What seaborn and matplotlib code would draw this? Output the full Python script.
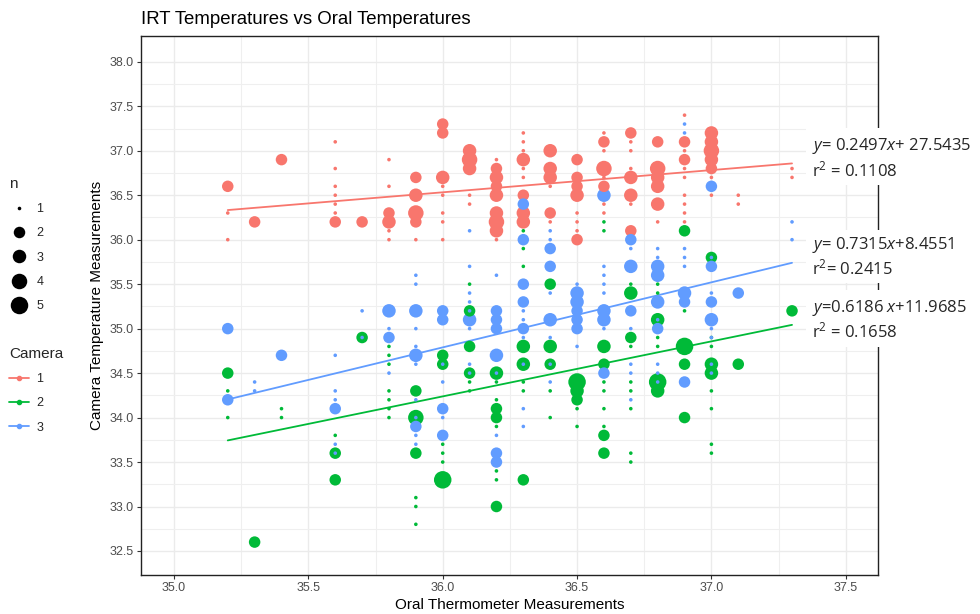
import matplotlib
matplotlib.use("Agg")
import matplotlib.pyplot as plt
from matplotlib.lines import Line2D
from matplotlib.patches import Rectangle
import seaborn as sns
import pandas as pd

# ---------------- data ----------------
cam1_x = [35.2, 35.2, 35.2, 35.3, 35.4,
          35.6, 35.6, 35.6, 35.6, 35.6, 35.6, 35.6, 35.7,
          35.8, 35.8, 35.8, 35.8, 35.8, 35.8,
          35.9, 35.9, 35.9, 35.9, 35.9,
          36.0, 36.0, 36.0, 36.0, 36.0, 36.0, 36.0, 36.0,
          36.1, 36.1, 36.1, 36.1, 36.1,
          36.2, 36.2, 36.2, 36.2, 36.2, 36.2, 36.2, 36.2, 36.2,
          36.3, 36.3, 36.3, 36.3, 36.3, 36.3, 36.3, 36.3, 36.3,
          36.4, 36.4, 36.4, 36.4, 36.4, 36.4,
          36.5, 36.5, 36.5, 36.5, 36.5, 36.5, 36.5, 36.5,
          36.6, 36.6, 36.6, 36.6, 36.6, 36.6, 36.6, 36.6,
          36.7, 36.7, 36.7, 36.7, 36.7, 36.7, 36.7, 36.7,
          36.8, 36.8, 36.8, 36.8, 36.8, 36.8,
          36.9, 36.9, 36.9, 36.9, 36.9, 36.9, 36.9, 36.9, 36.9, 36.9,
          37.0, 37.0, 37.0, 37.0, 37.0, 37.0, 37.0,
          37.1, 37.1, 37.3, 37.3]
cam1_y = [36.6, 36.3, 36.0, 36.2, 36.9,
          37.1, 36.8, 36.6, 36.5, 36.4, 36.3, 36.2, 36.2,
          36.9, 36.6, 36.3, 36.2, 36.1, 36.0,
          36.7, 36.5, 36.3, 36.2, 36.0,
          37.3, 37.2, 36.7, 36.6, 36.5, 36.3, 36.2, 36.0,
          37.0, 36.9, 36.8, 36.5, 36.4,
          36.9, 36.8, 36.7, 36.6, 36.5, 36.3, 36.2, 36.1, 36.0,
          37.2, 37.1, 37.0, 36.9, 36.8, 36.7, 36.5, 36.3, 36.2,
          37.0, 36.8, 36.7, 36.6, 36.3, 36.2,
          36.9, 36.7, 36.6, 36.5, 36.3, 36.2, 36.1, 36.0,
          37.2, 37.1, 37.0, 36.8, 36.7, 36.6, 36.4, 36.3,
          37.2, 37.1, 37.0, 36.8, 36.7, 36.5, 36.4, 36.1,
          37.1, 36.8, 36.7, 36.6, 36.4, 36.2,
          37.4, 37.1, 37.0, 36.9, 36.8, 36.7, 36.5, 36.4, 36.3, 36.2,
          37.2, 37.1, 37.0, 36.9, 36.8, 36.7, 36.5,
          36.5, 36.4, 36.8, 36.7]
cam1_n = [2, 1, 1, 2, 2,
          1, 1, 1, 1, 1, 1, 2, 2,
          1, 1, 2, 3, 1, 1,
          2, 3, 4, 2, 1,
          2, 2, 3, 1, 1, 1, 1, 1,
          3, 4, 3, 1, 1,
          1, 2, 3, 2, 3, 3, 4, 3, 1,
          1, 1, 1, 3, 1, 1, 2, 3, 3,
          3, 3, 3, 1, 2, 1,
          2, 2, 2, 3, 1, 1, 1, 2,
          1, 2, 1, 4, 1, 2, 1, 1,
          2, 1, 1, 1, 3, 3, 1, 2,
          2, 4, 3, 3, 3, 1,
          1, 2, 1, 2, 1, 1, 1, 1, 1, 1,
          3, 3, 4, 3, 2, 1, 1,
          1, 1, 1, 1]

cam2_x = [35.2, 35.2, 35.2, 35.3, 35.4, 35.4,
          35.6, 35.6, 35.6, 35.7,
          35.8, 35.8, 35.8, 35.8, 35.8, 35.8, 35.8,
          35.9, 35.9, 35.9, 35.9, 35.9, 35.9,
          36.0, 36.0, 36.0, 36.0, 36.0, 36.0,
          36.1, 36.1, 36.1, 36.1, 36.1, 36.1,
          36.2, 36.2, 36.2, 36.2, 36.2, 36.2, 36.2, 36.2, 36.2,
          36.3, 36.3, 36.3, 36.3, 36.3, 36.3, 36.3, 36.3,
          36.4, 36.4, 36.4, 36.4, 36.4,
          36.5, 36.5, 36.5, 36.5, 36.5,
          36.6, 36.6, 36.6, 36.6, 36.6, 36.6, 36.6, 36.6, 36.6, 36.6,
          36.7, 36.7, 36.7, 36.7, 36.7, 36.7, 36.7, 36.7, 36.7,
          36.8, 36.8, 36.8, 36.8, 36.8, 36.8, 36.8,
          36.9, 36.9, 36.9, 36.9, 36.9,
          37.0, 37.0, 37.0, 37.0, 37.0, 37.0, 37.0, 37.0, 37.0,
          37.1, 37.3]
cam2_y = [34.5, 34.3, 34.0, 32.6, 34.1, 34.0,
          33.8, 33.6, 33.3, 34.9,
          34.8, 34.7, 34.6, 34.3, 34.2, 34.1, 34.0,
          34.3, 34.0, 33.6, 33.1, 33.0, 32.8,
          34.7, 34.6, 33.7, 33.6, 33.5, 33.3,
          35.5, 35.2, 34.8, 34.5, 34.4, 34.3,
          34.5, 34.4, 34.2, 34.1, 34.0, 33.9, 33.4, 33.3, 33.0,
          36.1, 35.9, 35.7, 34.8, 34.6, 34.4, 34.3, 33.3,
          35.5, 34.8, 34.6, 34.3, 34.0,
          34.4, 34.3, 34.2, 34.1, 33.9,
          36.2, 36.1, 34.8, 34.6, 34.4, 34.3, 34.1, 33.9, 33.8, 33.6,
          35.5, 35.4, 34.9, 34.8, 34.4, 34.3, 34.1, 33.6, 33.5,
          35.5, 35.4, 35.1, 34.9, 34.8, 34.4, 34.3,
          36.1, 35.2, 34.8, 34.6, 34.0,
          35.8, 34.9, 34.8, 34.6, 34.5, 34.3, 34.1, 33.7, 33.6,
          34.6, 35.2]
cam2_n = [2, 1, 1, 2, 1, 1,
          1, 2, 2, 2,
          1, 1, 1, 1, 1, 1, 1,
          2, 4, 2, 1, 1, 1,
          2, 2, 1, 1, 1, 5,
          1, 2, 2, 2, 1, 1,
          3, 1, 1, 2, 2, 1, 1, 1, 2,
          1, 1, 1, 3, 3, 1, 1, 2,
          2, 3, 2, 1, 1,
          5, 3, 2, 1, 1,
          1, 1, 3, 2, 1, 1, 1, 1, 2, 2,
          1, 3, 2, 1, 1, 1, 1, 1, 1,
          1, 1, 3, 1, 1, 5, 3,
          2, 1, 5, 2, 2,
          2, 1, 1, 3, 3, 1, 1, 1, 1,
          2, 2]

cam3_x = [35.2, 35.2, 35.3, 35.3, 35.4,
          35.6, 35.6, 35.6, 35.6, 35.6, 35.6,
          35.7, 35.7,
          35.8, 35.8, 35.8, 35.8,
          35.9, 35.9, 35.9, 35.9, 35.9, 35.9, 35.9, 35.9, 35.9, 35.9, 35.9, 35.9,
          36.0, 36.0, 36.0, 36.0, 36.0, 36.0, 36.0,
          36.1, 36.1, 36.1, 36.1, 36.1, 36.1, 36.1, 36.1, 36.1,
          36.2, 36.2, 36.2, 36.2, 36.2, 36.2, 36.2, 36.2, 36.2,
          36.3, 36.3, 36.3, 36.3, 36.3, 36.3, 36.3, 36.3, 36.3, 36.3, 36.3,
          36.4, 36.4, 36.4, 36.4, 36.4, 36.4, 36.4, 36.4, 36.4,
          36.5, 36.5, 36.5, 36.5, 36.5, 36.5, 36.5,
          36.6, 36.6, 36.6, 36.6, 36.6, 36.6, 36.6, 36.6, 36.6,
          36.7, 36.7, 36.7, 36.7, 36.7, 36.7, 36.7, 36.7,
          36.8, 36.8, 36.8, 36.8, 36.8, 36.8, 36.8, 36.8, 36.8, 36.8,
          36.9, 36.9, 36.9, 36.9, 36.9, 36.9, 36.9, 36.9,
          37.0, 37.0, 37.0, 37.0, 37.0, 37.0, 37.0, 37.0, 37.0, 37.0,
          37.1, 37.3, 37.3]
cam3_y = [35.0, 34.2, 34.4, 34.3, 34.7,
          34.7, 34.3, 34.2, 34.1, 33.7, 33.6,
          35.2, 34.9,
          35.2, 35.0, 34.9, 34.5,
          35.6, 35.5, 35.2, 35.0, 34.8, 34.7, 34.6, 34.2, 34.0, 33.9, 33.8, 33.7,
          35.2, 35.1, 34.6, 34.4, 34.1, 34.0, 33.8,
          36.1, 35.7, 35.4, 35.3, 35.2, 35.1, 35.0, 34.6, 34.5,
          35.6, 35.2, 35.1, 35.0, 34.7, 34.5, 33.8, 33.6, 33.5,
          36.4, 36.0, 35.5, 35.3, 35.2, 35.1, 35.0, 34.9, 34.6, 34.1, 33.9,
          36.1, 36.0, 35.9, 35.7, 35.4, 35.1, 34.9, 34.6, 34.4,
          35.5, 35.4, 35.3, 35.2, 35.1, 35.0, 34.8,
          36.5, 35.7, 35.6, 35.5, 35.4, 35.2, 35.1, 35.0, 34.5,
          36.0, 35.9, 35.7, 35.2, 35.0, 34.6, 34.5, 34.2,
          35.9, 35.8, 35.7, 35.6, 35.3, 35.1, 35.0, 34.6, 34.5, 34.4,
          37.3, 37.2, 35.9, 35.8, 35.7, 35.4, 35.3, 34.4,
          36.6, 35.8, 35.7, 35.4, 35.3, 35.1, 35.0, 34.9, 34.6, 34.5,
          35.4, 36.2, 36.0]
cam3_n = [2, 2, 1, 1, 2,
          1, 1, 1, 2, 1, 1,
          1, 1,
          3, 1, 2, 1,
          1, 1, 3, 1, 1, 3, 1, 1, 1, 2, 1, 1,
          2, 2, 1, 1, 2, 1, 2,
          1, 1, 1, 1, 1, 3, 1, 1, 1,
          1, 2, 2, 2, 3, 1, 1, 2, 2,
          2, 2, 2, 2, 1, 1, 2, 1, 1, 1, 1,
          1, 1, 2, 2, 1, 3, 1, 1, 1,
          1, 3, 3, 2, 2, 2, 1,
          3, 1, 1, 1, 1, 3, 3, 1, 2,
          2, 1, 3, 2, 1, 1, 1, 1,
          1, 1, 3, 3, 3, 1, 2, 1, 1, 1,
          1, 1, 1, 1, 1, 3, 2, 2,
          2, 1, 2, 1, 2, 3, 1, 1, 1, 1,
          2, 1, 1]

cameras = ["1", "2", "3"]
slopes = [0.2497, 0.6186, 0.7315]
intercepts = [27.5435, 11.9685, 8.4551]
fit_x_range = [35.2, 37.3]
eq_labels = ["$\\mathit{y}$= 0.2497$\\mathit{x}$+ 27.5435", "$\\mathit{y}$=0.6186 $\\mathit{x}$+11.9685",
             "$\\mathit{y}$= 0.7315$\\mathit{x}$+8.4551"]
r2_labels = ["r$^{2}$ = 0.1108", "r$^{2}$ = 0.1658", "r$^{2}$= 0.2415"]

x_ticks = [35.0, 35.5, 36.0, 36.5, 37.0, 37.5]
y_ticks = [32.5, 33.0, 33.5, 34.0, 34.5, 35.0, 35.5, 36.0, 36.5, 37.0, 37.5, 38.0]
n_levels = [1, 2, 3, 4, 5]

# ---------------- build tables ----------------
frames = []
for cam, xs, ys, ns in zip(cameras, [cam1_x, cam2_x, cam3_x], [cam1_y, cam2_y, cam3_y],
                           [cam1_n, cam2_n, cam3_n]):
    frames.append(pd.DataFrame({"oral": xs, "irt": ys, "n": ns, "Camera": cam}))
df = pd.concat(frames, ignore_index=True)
df = df.sort_values("n", ascending=False, kind="stable")

fit_rows = []
for cam, s, b in zip(cameras, slopes, intercepts):
    for xv in fit_x_range:
        fit_rows.append({"oral": xv, "fit": s * xv + b, "Camera": cam})
fit_df = pd.DataFrame(fit_rows)

# ---------------- style ----------------
sns.set_theme(style="white")
plt.rcParams["font.family"] = ["Liberation Sans", "DejaVu Sans"]
plt.rcParams["mathtext.fontset"] = "custom"
plt.rcParams["mathtext.rm"] = "Open Sans"
plt.rcParams["mathtext.it"] = "Open Sans:italic"

pal = {"1": "#F8766D", "2": "#00BA38", "3": "#619CFF"}
size_px = {1: 3.6, 2: 11.5, 3: 13.5, 4: 15.5, 5: 17.5}
size_map = {k: (v * 0.72) ** 2 for k, v in size_px.items()}

fig = plt.figure(figsize=(9.8, 6.14), dpi=100)
ax = fig.add_axes([140.7 / 980, 1 - 575 / 614, (878 - 140.7) / 980, (575 - 36) / 614])

ax.set_xlim(34.876, 37.62)
ax.set_ylim(32.23, 38.29)
ax.set_xticks(x_ticks)
ax.set_xticklabels([f"{v:.1f}" for v in x_ticks])
ax.set_yticks(y_ticks)
ax.set_yticklabels([f"{v:.1f}" for v in y_ticks])
ax.set_xticks([35.25, 35.75, 36.25, 36.75, 37.25], minor=True)
ax.set_yticks([32.75 + 0.5 * i for i in range(11)], minor=True)
ax.grid(which="major", color="#EBEBEB", linewidth=1.0)
ax.grid(which="minor", color="#EFEFEF", linewidth=0.8)
ax.set_axisbelow(True)
for sp in ax.spines.values():
    sp.set_color("#222222")
    sp.set_linewidth(1.0)
ax.tick_params(axis="both", which="major", length=3, width=0.8, color="#333333",
               labelsize=9, labelcolor="#4D4D4D", pad=2, left=True, bottom=True)
ax.tick_params(which="minor", length=0)

sns.lineplot(data=fit_df, x="oral", y="fit", hue="Camera", palette=pal, legend=False,
             linewidth=1.3, ax=ax, zorder=2)
sns.scatterplot(data=df, x="oral", y="irt", hue="Camera", size="n", sizes=size_map,
                palette=pal, linewidth=0, legend=False, ax=ax, zorder=3, alpha=1)

ax.set_xlabel("Oral Thermometer Measurements", fontsize=11, color="black", labelpad=3)
ax.set_ylabel("Camera Temperature Measurements", fontsize=11, color="black", labelpad=4)
fig.text(141 / 980, 1 - 20 / 614, "IRT Temperatures vs Oral Temperatures", fontsize=13.4,
         ha="left", va="center", color="black")

# ---------------- legends ----------------
n_handles = [Line2D([], [], linestyle="none", marker="o", color="black",
                    markersize=size_px[k] * 0.72, markeredgewidth=0) for k in n_levels]
leg1 = fig.legend(n_handles, [str(k) for k in n_levels], title="n", loc="upper left",
                  bbox_to_anchor=(4 / 980, 1 - 172 / 614), frameon=False, fontsize=9,
                  title_fontsize=11, labelspacing=0.98, handlelength=1.6, handletextpad=0.6,
                  alignment="left", borderaxespad=0, borderpad=0.4)
leg1._legend_handle_box.sep = 10
cam_handles = [Line2D([], [], color=pal[c], marker="o", markersize=3, linewidth=1.3)
               for c in cameras]
leg2 = fig.legend(cam_handles, cameras, title="Camera", loc="upper left",
                  bbox_to_anchor=(4 / 980, 1 - 342 / 614), frameon=False, fontsize=9,
                  title_fontsize=11, labelspacing=0.98, handlelength=1.6, handletextpad=0.6,
                  alignment="left", borderaxespad=0, borderpad=0.4)
leg2._legend_handle_box.sep = 10

# ---------------- equation boxes ----------------
boxes = [(128, 185), (290, 347), (230, 283)]
eq_y = [(146, 170), (308, 331), (245, 268)]
for (top, bot), (y1, y2), eq, r2 in zip(boxes, eq_y, eq_labels, r2_labels):
    fig.add_artist(Rectangle((806 / 980, 1 - bot / 614), (980 - 806) / 980, (bot - top) / 614,
                             transform=fig.transFigure, facecolor="white", edgecolor="none",
                             zorder=5))
    fig.text(812 / 980, 1 - y1 / 614, eq, fontsize=12, ha="left", va="center",
             family="Open Sans", zorder=6)
    fig.text(812 / 980, 1 - y2 / 614, r2, fontsize=12, ha="left", va="center",
             family="Open Sans", zorder=6)

fig.savefig("out.png", dpi=100)
